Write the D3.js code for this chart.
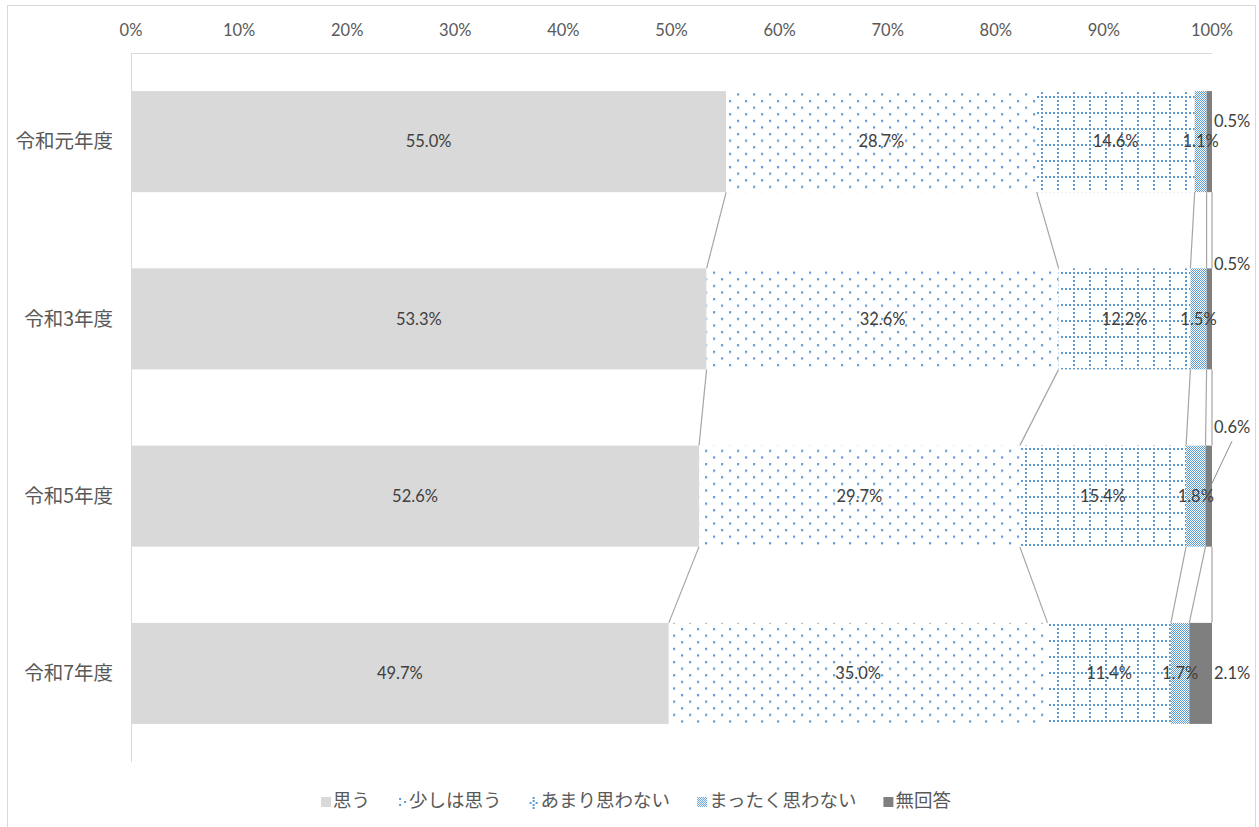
<!DOCTYPE html>
<html>
<head>
<meta charset="utf-8">
<script src="https://cdn.jsdelivr.net/npm/d3@7.9.0/dist/d3.min.js"></script>
<style>
  body { margin: 0; background: #fff; }
  svg text { font-family: Lato, "Noto Sans CJK JP", sans-serif; }
  .jp { font-family: "Noto Sans CJK JP", sans-serif; }
</style>
</head>
<body>
<svg id="chart" width="1259" height="827"></svg>
<script>
// data (percent)
const categories = ["令和元年度", "令和3年度", "令和5年度", "令和7年度"];
const seriesNames = ["思う", "少しは思う", "あまり思わない", "まったく思わない", "無回答"];
const omou = [55.0, 53.3, 52.6, 49.7];
const sukoshi = [28.7, 32.6, 29.7, 35.0];
const amari = [14.6, 12.2, 15.4, 11.4];
const mattaku = [1.1, 1.5, 1.8, 1.7];
const mukaitou = [0.5, 0.5, 0.6, 2.1];
const tickValues = [0, 10, 20, 30, 40, 50, 60, 70, 80, 90, 100];

const columns = [omou, sukoshi, amari, mattaku, mukaitou];
const table = categories.map((c, i) => {
  const row = { cat: c };
  seriesNames.forEach((s, j) => { row[s] = columns[j][i]; });
  return row;
});

// hand-placed labels for the last series (Excel moved them outside)
const outsideLabelDy = { "令和元年度": -20, "令和3年度": -55, "令和5年度": -69, "令和7年度": 0 };

const svg = d3.select("#chart");
const blue = "#5b9bd5";

// outer chart border
svg.append("rect")
  .attr("x", 7.5).attr("y", 5.5).attr("width", 1248).attr("height", 840)
  .attr("fill", "none").attr("stroke", "#d9d9d9");

// patterns
const defs = svg.append("defs");
const pDots = defs.append("pattern").attr("id", "p-dots")
  .attr("patternUnits", "userSpaceOnUse").attr("width", 16).attr("height", 13.2);
pDots.append("rect").attr("width", 16).attr("height", 13.2).attr("fill", "#fff");
pDots.append("rect").attr("x", 1).attr("y", 1).attr("width", 2.2).attr("height", 2.2).attr("fill", blue);
pDots.append("rect").attr("x", 9).attr("y", 7.6).attr("width", 2.2).attr("height", 2.2).attr("fill", blue);

const pGrid = defs.append("pattern").attr("id", "p-grid")
  .attr("patternUnits", "userSpaceOnUse").attr("width", 16).attr("height", 16);
pGrid.append("rect").attr("width", 16).attr("height", 16).attr("fill", "#fff");
for (let k = 0; k < 16; k += 4) {
  pGrid.append("rect").attr("x", 1).attr("y", k).attr("width", 2).attr("height", 2).attr("fill", blue);
  if (k > 0) pGrid.append("rect").attr("x", k + 1).attr("y", 0).attr("width", 2).attr("height", 2).attr("fill", blue);
}

const pCheck = defs.append("pattern").attr("id", "p-check")
  .attr("patternUnits", "userSpaceOnUse").attr("width", 2).attr("height", 2);
pCheck.append("rect").attr("width", 2).attr("height", 2).attr("fill", "#fff");
pCheck.append("rect").attr("width", 1).attr("height", 1).attr("fill", blue);
pCheck.append("rect").attr("x", 1).attr("y", 1).attr("width", 1).attr("height", 1).attr("fill", blue);

const fills = ["#d9d9d9", "url(#p-dots)", "url(#p-grid)", "url(#p-check)", "#7f7f7f"];

// scales
const x = d3.scaleLinear().domain([0, 1]).range([131, 1212]);
const y = d3.scaleBand().domain(categories).range([53, 762]).paddingInner(0.43).paddingOuter(0.215);

const stack = d3.stack().keys(seriesNames).offset(d3.stackOffsetExpand);
const layers = stack(table);

// axes lines
svg.append("line").attr("x1", 131).attr("x2", 1212).attr("y1", 53.5).attr("y2", 53.5)
  .attr("stroke", "#d9d9d9");
svg.append("line").attr("x1", 131.5).attr("x2", 131.5).attr("y1", 53).attr("y2", 762)
  .attr("stroke", "#d9d9d9");

// top tick labels
svg.append("g").selectAll("text").data(tickValues).join("text")
  .attr("x", d => x(d / 100)).attr("y", 30).attr("dy", "0.35em")
  .attr("text-anchor", "middle").attr("fill", "#595959").style("font-size", "16.5px")
  .text(d => d + "%");

// category labels
svg.append("g").selectAll("text").data(categories).join("text")
  .attr("class", "jp")
  .attr("x", 113).attr("y", d => y(d) + y.bandwidth() / 2).attr("dy", "0.35em")
  .attr("text-anchor", "end").attr("fill", "#595959").style("font-size", "19.5px")
  .text(d => d);

// series lines between bars
const lineG = svg.append("g").attr("stroke", "#a5a5a5").attr("stroke-width", 1.2);
layers.forEach(layer => {
  for (let i = 0; i < categories.length - 1; i++) {
    lineG.append("line")
      .attr("x1", x(layer[i][1])).attr("y1", y(categories[i]) + y.bandwidth())
      .attr("x2", x(layer[i + 1][1])).attr("y2", y(categories[i + 1]));
  }
});

// bars
svg.append("g").selectAll("g").data(layers).join("g")
  .attr("fill", (d, i) => fills[i])
  .selectAll("rect").data(d => d).join("rect")
  .attr("x", d => x(d[0])).attr("width", d => x(d[1]) - x(d[0]))
  .attr("y", d => y(d.data.cat)).attr("height", y.bandwidth());

// data labels
const labelG = svg.append("g").attr("fill", "#404040").style("font-size", "16.5px");
layers.forEach((layer, si) => {
  layer.forEach(d => {
    const v = d.data[layer.key];
    const cy = y(d.data.cat) + y.bandwidth() / 2;
    if (si === seriesNames.length - 1) {
      const dy = outsideLabelDy[d.data.cat];
      labelG.append("text")
        .attr("x", x(1) + 2).attr("y", cy + dy).attr("dy", "0.35em")
        .text(v.toFixed(1) + "%");
      if (dy < -60) {
        svg.append("line")
          .attr("x1", x(1) + 20).attr("y1", cy + dy + 14)
          .attr("x2", (x(d[0]) + x(d[1])) / 2).attr("y2", cy - 6)
          .attr("stroke", "#8c8c8c");
      }
    } else {
      labelG.append("text")
        .attr("x", (x(d[0]) + x(d[1])) / 2).attr("y", cy).attr("dy", "0.35em")
        .attr("text-anchor", "middle")
        .text(v.toFixed(1) + "%");
    }
  });
});

// legend
const legend = svg.append("g");
let lx = 0;
seriesNames.forEach((s, i) => {
  const item = legend.append("g").attr("transform", `translate(${lx},0)`);
  if (i === 1) {
    // small swatch: ":·"
    [[2, -3], [2, 3], [7, 0]].forEach(([dx, dy]) => {
      item.append("rect").attr("x", dx).attr("y", dy).attr("width", 2).attr("height", 2).attr("fill", blue);
    });
  } else if (i === 2) {
    [[4, -4], [4, -1], [1, 1], [7, 1], [4, 3], [4, 6]].forEach(([dx, dy]) => {
      item.append("rect").attr("x", dx).attr("y", dy).attr("width", 2).attr("height", 2).attr("fill", blue);
    });
  } else {
    item.append("rect").attr("x", 0).attr("y", -4).attr("width", 10).attr("height", 10)
      .attr("fill", fills[i]);
  }
  const t = item.append("text").attr("class", "jp")
    .attr("x", 12).attr("dy", "0.35em").attr("fill", "#595959").style("font-size", "18.5px")
    .text(s);
  lx += 12 + t.node().getComputedTextLength() + 27;
});
const legendW = lx - 27;
legend.attr("transform", `translate(${636 - legendW / 2},801)`);
</script>
</body>
</html>
